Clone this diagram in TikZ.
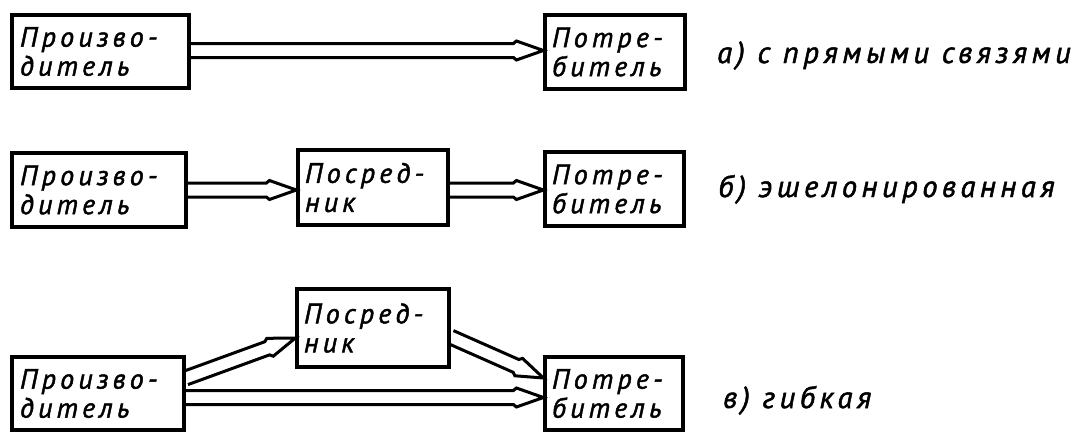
\documentclass[tikz,border=0pt]{standalone}
\usepackage{fontspec}
\setmainfont{PT Sans}
\newfontfamily\hand{PT Sans}[LetterSpace=15, FakeBold=1.6]
\newfontfamily\handl{PT Sans}[LetterSpace=15, FakeBold=1.6]
\usetikzlibrary{calc}
\tikzset{
  box/.style={draw, line width=3.2pt, inner sep=0pt, align=left,
    font=\hand\itshape\fontsize{28}{29}\selectfont},
  conn/.style={line width=3pt, line join=miter, miter limit=6},
  lab/.style={anchor=base west, inner sep=0pt,
    font=\handl\itshape\fontsize{30.5}{32}\selectfont}
}
\newcommand\dblarr[2]{%
  \coordinate (hh) at ($(#2)!27pt!(#1)$);
  \coordinate (hk) at ($(#2)!30pt!(#1)$);
  \draw[conn] ($(#1)!7pt!90:(#2)$) -- ($(hk)!7pt!-90:(#1)$) -- ($(hh)!9.5pt!-90:(#1)$) -- (#2)
    -- ($(hh)!9.5pt!90:(#1)$) -- ($(hk)!7pt!90:(#1)$) -- ($(#1)!7pt!-90:(#2)$);
}
\begin{document}
\begin{tikzpicture}[x=1pt,y=-1pt]
\useasboundingbox[fill=white] (0,0) rectangle (1083,431);
% row a
\node[box, minimum width=177pt, minimum height=73pt, text width=161pt] (pa) at (100.5,51.5) {Произво-\\дитель};
\node[box, minimum width=140pt, minimum height=74pt, text width=126pt] (ca) at (615,52) {Потре-\\битель};
\node[lab] (la) at (717,63) {а) с прямыми связями};
% row b
\node[box, minimum width=174pt, minimum height=74pt, text width=158pt] (pb) at (99,190) {Произво-\\дитель};
\node[box, minimum width=150pt, minimum height=75pt, text width=136pt] (mb) at (373,187.5) {Посред-\\ник};
\node[box, minimum width=139pt, minimum height=74pt, text width=125pt] (cb) at (614.5,189) {Потре-\\битель};
\node[lab] (lb) at (718,197) {б) эшелонированная};
% row c
\node[box, minimum width=152pt, minimum height=78pt, text width=138pt] (mc) at (373,328) {Посред-\\ник};
\node[box, minimum width=172pt, minimum height=73pt, text width=156pt] (pc) at (98,393.5) {Произво-\\дитель};
\node[box, minimum width=138pt, minimum height=73pt, text width=124pt] (cc) at (614,393.5) {Потре-\\битель};
\node[lab] (lc) at (723,408) {в) гибкая};
% connector end points
\coordinate (a1) at ($(pa.east)+(0,-1)$);
\coordinate (a2) at ($(ca.west)+(0,-1.5)$);
\coordinate (b1) at (pb.east);
\coordinate (b2) at ($(mb.west)+(0,2.5)$);
\coordinate (b3) at ($(mb.east)+(0,2.5)$);
\coordinate (b4) at ($(cb.west)+(0,1)$);
\coordinate (c1) at ($(pc.east)+(0,-15.5)$);
\coordinate (c2) at ($(mc.west)+(0,10)$);
\coordinate (c3) at ($(mc.east)+(0,9)$);
\coordinate (c4) at ($(cc.west)+(0,-15.5)$);
\coordinate (c5) at ($(pc.east)+(0,4)$);
\coordinate (c6) at ($(cc.west)+(0,4)$);
\dblarr{a1}{a2}
\dblarr{b1}{b2}
\dblarr{b3}{b4}
\dblarr{c1}{c2}
\dblarr{c3}{c4}
\dblarr{c5}{c6}
\end{tikzpicture}
\end{document}
